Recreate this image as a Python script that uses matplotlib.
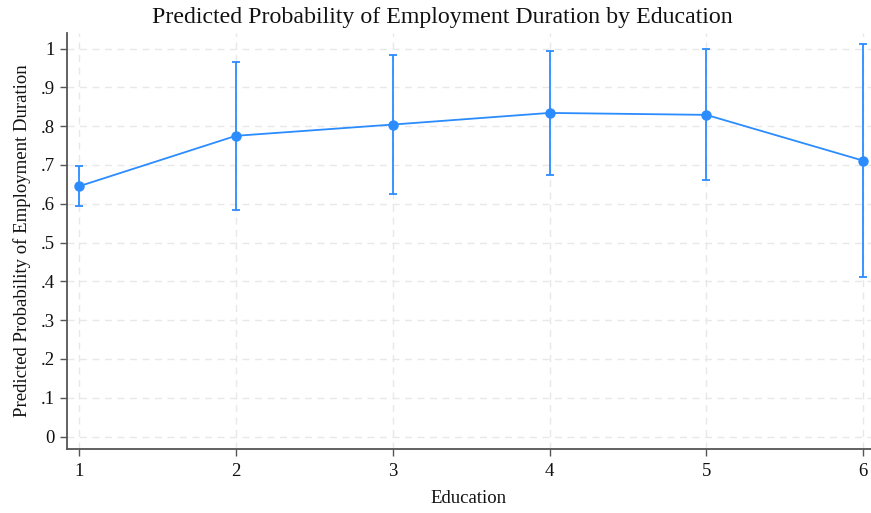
import matplotlib
matplotlib.use("Agg")
import matplotlib.pyplot as plt
import numpy as np

# Predicted probabilities by education level with 95% confidence bounds
education = [1, 2, 3, 4, 5, 6]
predicted = [0.645, 0.775, 0.804, 0.834, 0.829, 0.711]
ci_lower = [0.593, 0.584, 0.626, 0.673, 0.660, 0.412]
ci_upper = [0.696, 0.964, 0.982, 0.994, 0.998, 1.011]
y_ticks = [0, 0.1, 0.2, 0.3, 0.4, 0.5, 0.6, 0.7, 0.8, 0.9, 1.0]
y_tick_labels = ["0", ".1", ".2", ".3", ".4", ".5", ".6", ".7", ".8", ".9", "1"]

plt.rcParams["font.family"] = ["Liberation Serif", "DejaVu Serif"]

blue = "#2b8cff"
fig = plt.figure(figsize=(8.71, 5.13), dpi=100)
ax = fig.add_axes([0.0769, 0.1248, 0.9231, 0.8109])

pred = np.array(predicted)
yerr = np.vstack([pred - np.array(ci_lower), np.array(ci_upper) - pred])
ax.errorbar(education, predicted, yerr=yerr, color=blue, lw=1.3,
            elinewidth=1.3, capsize=3.2, capthick=1.3,
            marker="o", markersize=6.5, zorder=3)

ax.set_xlim(0.923, 6.05)
ax.set_ylim(-0.032, 1.040)
ax.set_xticks(education)
ax.set_yticks(y_ticks)
ax.set_yticklabels(y_tick_labels)

ax.grid(True, color="#e8e8e8", linestyle=(0, (5, 4)), linewidth=1.0, zorder=0)
ax.set_axisbelow(True)

for side in ["top", "right"]:
    ax.spines[side].set_visible(False)
for side in ["left", "bottom"]:
    ax.spines[side].set_color("#555555")
    ax.spines[side].set_linewidth(1.3)

ax.tick_params(axis="both", direction="out", length=5, width=1.0,
               color="#555555", labelsize=13.5, labelcolor="#111111")
ax.tick_params(axis="x", pad=5)
ax.tick_params(axis="y", pad=4)

ax.set_xlabel("Education", fontsize=13.5, color="#111111", labelpad=7)
ax.set_ylabel("Predicted Probability of Employment Duration", fontsize=13.5,
              color="#111111", labelpad=7)
fig.text(0.508, 0.966, "Predicted Probability of Employment Duration by Education",
         fontsize=17.2, color="#111111", ha="center", va="center")

fig.savefig("out.png", dpi=100)
